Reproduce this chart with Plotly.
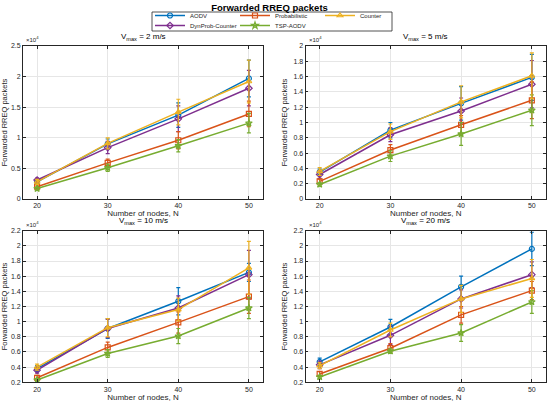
import plotly.graph_objects as go
from plotly.subplots import make_subplots

# number of nodes
nodes = [20, 30, 40, 50]

series = ["AODV", "DynProb-Counter", "Probabilistic", "TSP-AODV", "Counter"]
colors = {
    "AODV": "#0072BD",
    "DynProb-Counter": "#7E2F8E",
    "Probabilistic": "#D95319",
    "TSP-AODV": "#77AC30",
    "Counter": "#EDB120",
}
symbols = {
    "AODV": "circle-open",
    "DynProb-Counter": "diamond-open",
    "Probabilistic": "square-open",
    "TSP-AODV": "star-open",
    "Counter": "triangle-up-open",
}

# forwarded RREQ packets (mean) and error (half-width), Vmax = 2 m/s
v2_mean = {
    "AODV": [2800, 9000, 13700, 19700],
    "DynProb-Counter": [3100, 8400, 13100, 18100],
    "Probabilistic": [2000, 5900, 9600, 13900],
    "TSP-AODV": [1700, 5100, 8700, 12400],
    "Counter": [2800, 9100, 14200, 19200],
}
v2_err = {
    "AODV": [300, 800, 2000, 3000],
    "DynProb-Counter": [300, 1000, 2100, 2900],
    "Probabilistic": [300, 600, 1400, 2100],
    "TSP-AODV": [300, 600, 1000, 1600],
    "Counter": [400, 900, 2100, 3500],
}

# Vmax = 5 m/s
v5_mean = {
    "AODV": [3500, 9000, 12500, 15900],
    "DynProb-Counter": [3200, 8400, 11500, 15000],
    "Probabilistic": [2300, 6400, 9700, 12900],
    "TSP-AODV": [1900, 5600, 8500, 11600],
    "Counter": [3600, 8800, 12700, 16100],
}
v5_err = {
    "AODV": [400, 1000, 2200, 3000],
    "DynProb-Counter": [500, 900, 1700, 3100],
    "Probabilistic": [300, 700, 1200, 2400],
    "TSP-AODV": [200, 700, 1500, 2000],
    "Counter": [500, 1000, 2100, 3000],
}

# Vmax = 10 m/s
v10_mean = {
    "AODV": [3800, 9100, 12700, 16500],
    "DynProb-Counter": [3600, 9100, 11800, 16200],
    "Probabilistic": [2600, 6600, 9900, 13300],
    "TSP-AODV": [2300, 5800, 8100, 11800],
    "Counter": [4000, 9200, 11600, 17100],
}
v10_err = {
    "AODV": [400, 1300, 1800, 1200],
    "DynProb-Counter": [400, 1200, 1600, 3200],
    "Probabilistic": [300, 700, 1400, 2200],
    "TSP-AODV": [200, 500, 1000, 1400],
    "Counter": [400, 1200, 1500, 3500],
}

# Vmax = 20 m/s
v20_mean = {
    "AODV": [4700, 9300, 14600, 19600],
    "DynProb-Counter": [4300, 8200, 13000, 16200],
    "Probabilistic": [3100, 6500, 10900, 14100],
    "TSP-AODV": [2700, 6100, 8500, 12600],
    "Counter": [4200, 8900, 13000, 15700],
}
v20_err = {
    "AODV": [500, 1000, 1400, 2200],
    "DynProb-Counter": [500, 1200, 1200, 1700],
    "Probabilistic": [300, 600, 1100, 1200],
    "TSP-AODV": [200, 300, 1100, 1500],
    "Counter": [400, 900, 1800, 2500],
}

panel_titles = ["V<sub>max</sub> = 2 m/s", "V<sub>max</sub> = 5 m/s",
                "V<sub>max</sub> = 10 m/s", "V<sub>max</sub> = 20 m/s"]
yticks_top_left = ["0", "0.5", "1", "1.5", "2", "2.5"]
yticks_top_right = ["0", "0.2", "0.4", "0.6", "0.8", "1", "1.2", "1.4", "1.6", "1.8", "2"]
yticks_bottom = ["0.2", "0.4", "0.6", "0.8", "1", "1.2", "1.4", "1.6", "1.8", "2", "2.2"]

FONT = "Liberation Sans, Arial, sans-serif"

panels = [
    (1, 1, v2_mean, v2_err, yticks_top_left),
    (1, 2, v5_mean, v5_err, yticks_top_right),
    (2, 1, v10_mean, v10_err, yticks_bottom),
    (2, 2, v20_mean, v20_err, yticks_bottom),
]

fig = make_subplots(rows=2, cols=2)

row1_legend = {"AODV", "Probabilistic", "Counter"}

for i, (r, c, means, errs, yt) in enumerate(panels):
    for name in series:
        fig.add_trace(
            go.Scatter(
                x=nodes, y=means[name],
                mode="lines+markers",
                name=name,
                legend="legend" if name in row1_legend else "legend2",
                showlegend=(i == 0),
                line=dict(color=colors[name], width=1.5),
                marker=dict(symbol=symbols[name], size=5, color=colors[name],
                            line=dict(width=1.2, color=colors[name])),
                error_y=dict(type="data", array=errs[name], color=colors[name],
                             thickness=1.2, width=2),
            ),
            row=r, col=c,
        )
    vals = [float(t) * 1e4 for t in yt]
    fig.update_yaxes(tickvals=vals, ticktext=yt, range=[vals[0], vals[-1]], row=r, col=c)

x_dom = [[0.0418, 0.4782], [0.5555, 0.9927]]
y_dom = [[0.5062, 0.8859], [0.0514, 0.4275]]

axis_style = dict(
    showline=True, linecolor="#262626", linewidth=0.8, mirror="ticks",
    ticks="inside", ticklen=3, tickcolor="#262626", tickwidth=0.8,
    showgrid=True, gridcolor="#e6e6e6", gridwidth=0.8, zeroline=False,
    tickfont=dict(size=7, color="#262626", family=FONT),
    automargin=False,
)

for r in (1, 2):
    for c in (1, 2):
        fig.update_xaxes(
            domain=x_dom[c - 1], range=[18, 52], tickvals=nodes,
            title=dict(text="Number of nodes, N", font=dict(size=8, color="#262626", family=FONT), standoff=2),
            row=r, col=c, **axis_style,
        )
        fig.update_yaxes(
            domain=y_dom[r - 1],
            title=dict(text="Forwarded RREQ packets", font=dict(size=7.5, color="#262626", family=FONT), standoff=4),
            row=r, col=c, **axis_style,
        )

annotations = []
for i, (r, c, *_ ) in enumerate(panels):
    xd = x_dom[c - 1]
    yd = y_dom[r - 1]
    annotations.append(dict(
        text=panel_titles[i], x=(xd[0] + xd[1]) / 2, y=yd[1] + 0.006,
        xref="paper", yref="paper", xanchor="center", yanchor="bottom",
        showarrow=False, font=dict(size=8, color="#000000", family=FONT),
    ))
    annotations.append(dict(
        text="×10<sup>4</sup>", x=xd[0] + 0.002, y=yd[1] + 0.002,
        xref="paper", yref="paper", xanchor="left", yanchor="bottom",
        showarrow=False, font=dict(size=6, color="#262626", family=FONT),
    ))

legend_style = dict(
    orientation="h", xanchor="left", yanchor="top",
    bgcolor="rgba(0,0,0,0)", borderwidth=0,
    font=dict(size=6, color="#262626", family=FONT),
    entrywidth=40, entrywidthmode="pixels", itemwidth=30,
    tracegroupgap=0,
)

LEG_X = 150
fig.update_layout(
    width=550, height=403,
    margin=dict(l=0, r=0, t=0, b=0),
    paper_bgcolor="white", plot_bgcolor="white",
    title=dict(text="<b>Forwarded RREQ packets</b>", x=0.49, xanchor="center",
               y=0.982, yanchor="middle", font=dict(size=9.5, color="#000000", family=FONT)),
    legend=dict(x=LEG_X / 550, y=1 - 1 / 403, **legend_style),
    legend2=dict(x=LEG_X / 550, y=1 - 11 / 403, **legend_style),
    annotations=annotations,
    shapes=[dict(type="rect", xref="paper", yref="paper",
                 x0=(LEG_X + 2) / 550, x1=(LEG_X + 242) / 550, y0=1 - 31 / 403, y1=1 - 12 / 403,
                 line=dict(color="#262626", width=0.8), fillcolor="rgba(0,0,0,0)")],
)

# drop the browser's default body margin so the figure sits at the window corner
fig.write_html("out.html", config={"displayModeBar": False},
               post_script="document.body.style.margin='0';")
